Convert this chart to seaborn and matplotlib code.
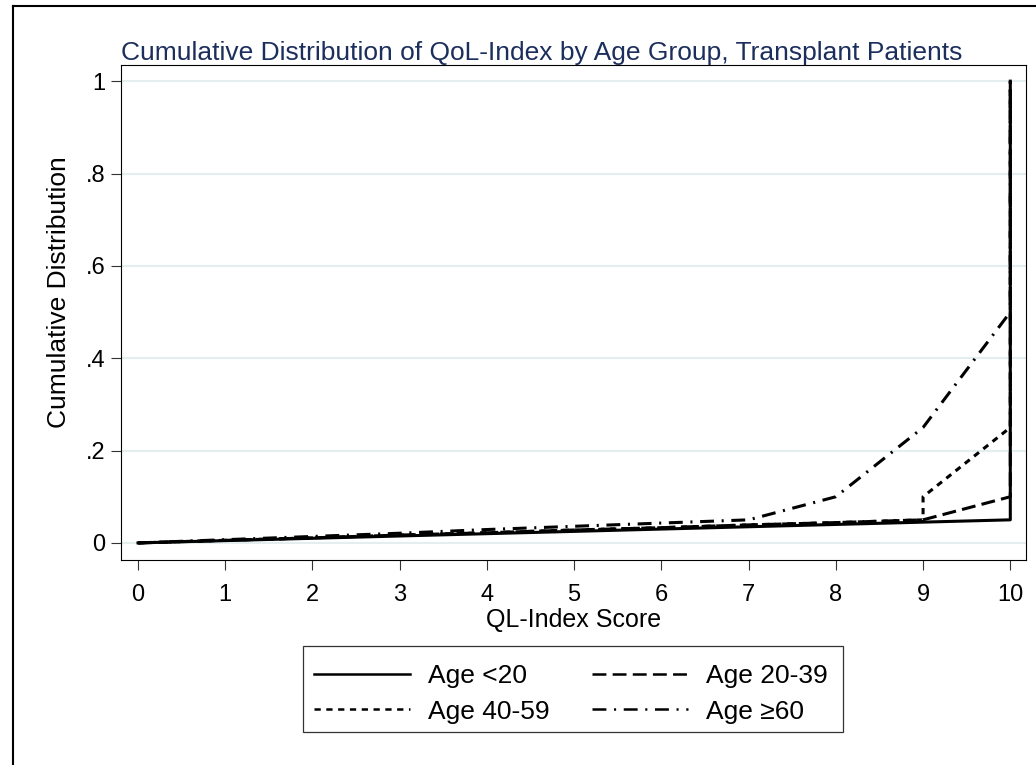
import pandas as pd
import matplotlib.pyplot as plt
import seaborn as sns
from matplotlib.lines import Line2D
from matplotlib.patches import Rectangle

# 各年龄组的累计分布
groups = ['Age <20', 'Age 20-39', 'Age 40-59', 'Age \u226560']

x_lt20 = [0, 1, 2, 3, 4, 5, 6, 7, 8, 9, 10, 10]
y_lt20 = [0, .005, .01, .015, .02, .025, .03, .035, .04, .045, .05, 1.0]

x_20_39 = [0, 1, 2, 3, 4, 5, 6, 7, 8, 9, 10, 10]
y_20_39 = [0, .0056, .011, .017, .022, .028, .033, .039, .044, .05, .10, 1.0]

x_40_59 = [0, 1, 2, 3, 4, 5, 6, 7, 8, 9, 9, 10, 10]
y_40_59 = [0, .0056, .011, .017, .022, .028, .033, .039, .044, .05, .10, .25, 1.0]

x_ge60 = [0, 1, 2, 3, 4, 5, 6, 7, 8, 9, 10, 10]
y_ge60 = [0, .007, .014, .021, .029, .036, .043, .05, .10, .25, .50, 1.0]

xticks = list(range(11))
yticks = [0, .2, .4, .6, .8, 1]
ytick_labels = ['0', '.2', '.4', '.6', '.8', '1']

title_color = '#1c2e5c'
grid_color = '#e4eeef'

plt.rcParams['font.family'] = ['Liberation Sans', 'DejaVu Sans']
plt.rcParams['lines.scale_dashes'] = False

# 整理为长表
frames = []
for g, xs, ys in zip(groups, [x_lt20, x_20_39, x_40_59, x_ge60],
                     [y_lt20, y_20_39, y_40_59, y_ge60]):
    frames.append(pd.DataFrame({'score': xs, 'cdf': ys, 'group': g}))
df = pd.concat(frames, ignore_index=True)

dashes = {groups[0]: '',
          groups[1]: (10, 4.5),
          groups[2]: (4.5, 4),
          groups[3]: (10, 5.5, 1.5, 5.5)}

fig = plt.figure(figsize=(10.36, 7.65), dpi=100)
ax = fig.add_axes([121 / 1036, 1 - 560 / 765, 905 / 1036, 495 / 765])

for y in yticks:
    ax.axhline(y, color=grid_color, linewidth=1.5, zorder=0)

# 实线最后画，压在最上面
order = groups[::-1]
sns.lineplot(data=df, x='score', y='cdf', style='group', style_order=order,
             dashes=dashes, color='black', linewidth=2.2, estimator=None,
             sort=False, legend=False, ax=ax)

ax.set_xlim(-0.195, 10.18)
ax.set_ylim(-0.037, 1.035)
ax.set_xticks(xticks)
ax.set_yticks(yticks)
ax.set_yticklabels(ytick_labels)
ax.tick_params(axis='both', labelsize=17, length=7, width=0.8,
               direction='out', color='#333333')
ax.tick_params(axis='y', pad=4)
ax.tick_params(axis='x', pad=10)
for s in ax.spines.values():
    s.set_linewidth(0.8)
    s.set_color('black')

ax.set_xlabel('QL-Index Score', fontsize=18, labelpad=2)
ax.set_ylabel('Cumulative Distribution', fontsize=19, labelpad=11)
ax.yaxis.label.set_y(0.541)
ax.set_title('Cumulative Distribution of QoL-Index by Age Group, Transplant Patients',
             loc='left', fontsize=19, color=title_color, pad=2)

# 图例 (按行排列)
handles = []
for g in groups:
    d = dashes[g]
    if d == '':
        handles.append(Line2D([], [], color='black', linewidth=1.8))
    else:
        handles.append(Line2D([], [], color='black', linewidth=1.8, dashes=d))
idx = [0, 2, 1, 3]
leg = fig.legend([handles[i] for i in idx], [groups[i] for i in idx], ncol=2,
                 loc='center', bbox_to_anchor=(571 / 1036, 1 - 694 / 765),
                 frameon=False, fontsize=19, handlelength=3.64,
                 handletextpad=0.68, columnspacing=1.6, labelspacing=0.42,
                 borderpad=0)
fig.add_artist(Rectangle((303 / 1036, 1 - 732 / 765), 540 / 1036, 86 / 765,
                         transform=fig.transFigure, fill=False,
                         edgecolor='#333333', linewidth=0.9))

# 外框 (左边和上边)
fig.add_artist(Line2D([13 / 1036, 13 / 1036], [0, 1 - 6 / 765],
                      transform=fig.transFigure, color='black', linewidth=1.5))
fig.add_artist(Line2D([13 / 1036, 1], [1 - 6 / 765, 1 - 6 / 765],
                      transform=fig.transFigure, color='black', linewidth=1.5))

fig.savefig('out.png', dpi=100)
